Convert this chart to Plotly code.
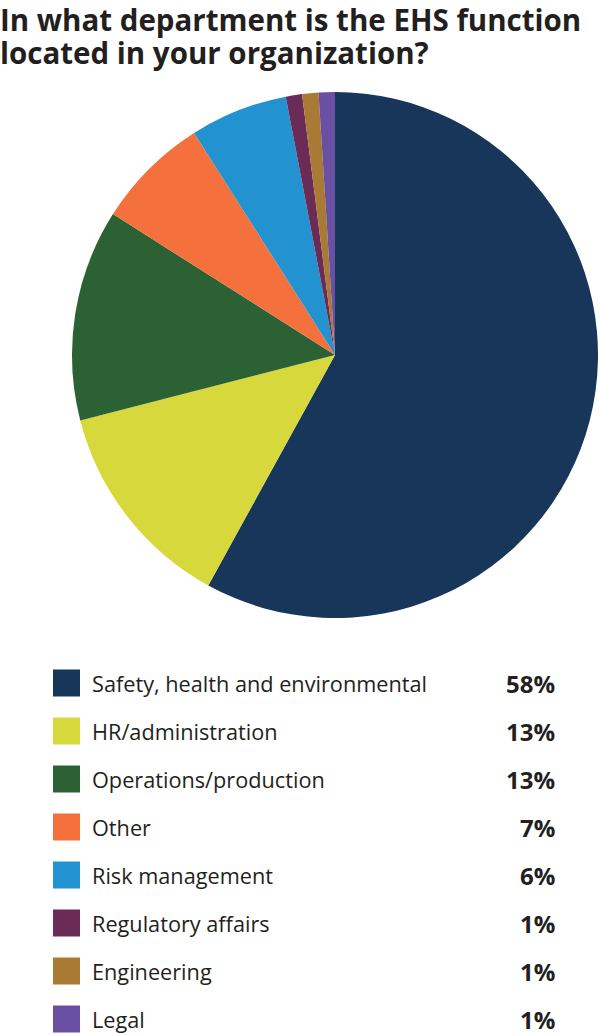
import plotly.graph_objects as go

categories = ["Safety, health and environmental", "HR/administration", "Operations/production",
              "Other", "Risk management", "Regulatory affairs", "Engineering", "Legal"]
values = [58, 13, 13, 7, 6, 1, 1, 1]
colors = ["#18365a", "#d6d83c", "#2c6133", "#f4703d", "#2292d1", "#6b2b57", "#a97a33", "#6a50a2"]
title_lines = ["In what department is the EHS function", "located in your organization?"]

W, H = 600, 1035
fig = go.Figure()
fig.add_trace(go.Pie(
    labels=categories, values=values, sort=False, direction="clockwise", rotation=0,
    marker=dict(colors=colors, line=dict(width=0)),
    textinfo="none", hoverinfo="label+percent", showlegend=False,
    domain=dict(x=[(335 - 263) / W, (335 + 263) / W], y=[1 - 618 / H, 1 - 92 / H]),
))

def py(y):
    return 1 - y / H

ann = []
for j, line in enumerate(title_lines):
    ann.append(dict(text=line, x=-1 / W, y=py(19.5 + 33 * j), xref="paper", yref="paper",
                    xanchor="left", yanchor="middle", align="left", showarrow=False,
                    borderpad=0,
                    font=dict(family="Open Sans", size=29.5, color="#231f20", weight="bold")))
shapes = []
row0, step = 683, 48.0
for i, (c, v, col) in enumerate(zip(categories, values, colors)):
    yc = row0 + i * step
    shapes.append(dict(type="rect", xref="paper", yref="paper",
                       x0=53 / W, x1=80 / W, y0=py(yc - 13.5), y1=py(yc + 13.5),
                       fillcolor=col, line=dict(width=0)))
    ann.append(dict(text=c, x=91 / W, y=py(yc), xref="paper", yref="paper",
                    xanchor="left", yanchor="middle", showarrow=False, borderpad=0,
                    font=dict(family="Open Sans", size=21.7, color="#231f20")))
    ann.append(dict(text=f"<b>{v}%</b>", x=556 / W, y=py(yc), xref="paper", yref="paper",
                    xanchor="right", yanchor="middle", showarrow=False, borderpad=0,
                    font=dict(family="Open Sans", size=24, color="#231f20")))

fig.update_layout(width=W, height=H, margin=dict(l=0, r=0, t=0, b=0),
                  paper_bgcolor="white", plot_bgcolor="white",
                  annotations=ann, shapes=shapes)
fig.write_html("out.html")
